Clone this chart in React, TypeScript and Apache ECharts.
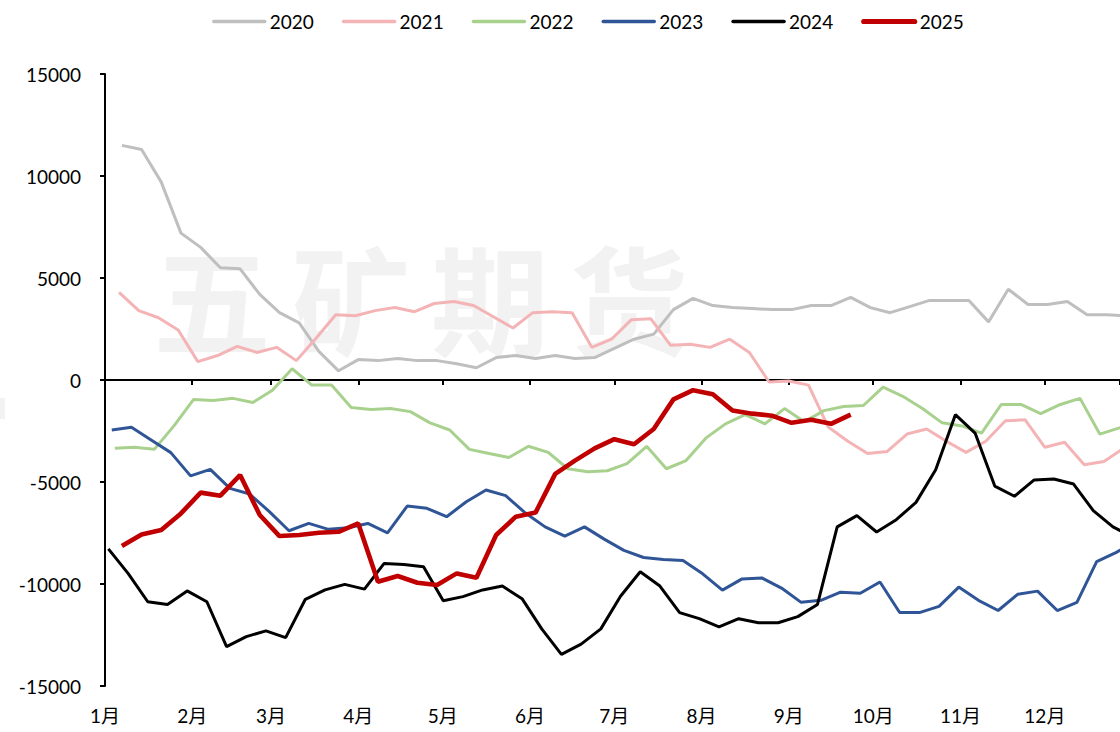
import React, { useEffect, useRef } from "react";
import * as echarts from "echarts";

// Weekly values by year (first-point day-of-year offset, then one value per week)
const years = ["2020", "2021", "2022", "2023", "2024", "2025"];
const startDays = [6, 5, 3.5, 2.4, 1.2, 6];

const v2020 = [11500, 11300, 9700, 7200, 6500, 5500, 5450, 4200, 3300, 2800, 1400, 450, 1000, 950, 1050, 950, 950, 800, 600, 1100, 1200, 1050, 1200, 1050, 1100, 1550, 2000, 2250, 3450, 4000, 3650, 3550, 3500, 3450, 3450, 3650, 3650, 4050, 3550, 3300, 3600, 3900, 3900, 3900, 2850, 4450, 3700, 3700, 3850, 3200, 3200, 3150, 3400];
const v2021 = [4300, 3400, 3050, 2450, 900, 1200, 1650, 1350, 1600, 950, 2050, 3200, 3150, 3400, 3550, 3350, 3750, 3850, 3650, 3100, 2550, 3300, 3350, 3300, 1600, 2000, 2950, 3000, 1700, 1750, 1600, 2000, 1350, -100, -50, -250, -2300, -3000, -3600, -3500, -2650, -2400, -3000, -3550, -3000, -2000, -1950, -3300, -3050, -4150, -4000, -3350];
const v2022 = [-3350, -3300, -3400, -2250, -950, -1000, -900, -1100, -500, 550, -250, -250, -1350, -1450, -1400, -1550, -2100, -2450, -3400, -3600, -3800, -3250, -3550, -4350, -4500, -4450, -4100, -3250, -4350, -3950, -2850, -2150, -1700, -2150, -1400, -2050, -1500, -1300, -1250, -350, -800, -1400, -2100, -2250, -2600, -1200, -1200, -1650, -1200, -900, -2650, -2350, -2200];
const v2023 = [-2450, -2320, -2940, -3560, -4700, -4380, -5310, -5590, -6450, -7390, -7030, -7320, -7240, -7030, -7490, -6180, -6290, -6700, -5970, -5390, -5670, -6520, -7200, -7650, -7200, -7800, -8350, -8700, -8800, -8850, -9500, -10300, -9750, -9700, -10200, -10900, -10800, -10400, -10450, -9900, -11400, -11400, -11100, -10150, -10800, -11300, -10500, -10350, -11300, -10900, -8900, -8450, -7900];
const v2024 = [-8280, -9480, -10870, -11000, -10340, -10870, -13070, -12580, -12300, -12630, -10750, -10290, -10020, -10250, -8990, -9040, -9150, -10820, -10620, -10290, -10100, -10720, -12200, -13450, -12950, -12200, -10600, -9400, -10100, -11400, -11700, -12100, -11700, -11900, -11900, -11600, -11000, -7200, -6650, -7450, -6850, -6000, -4400, -1700, -2600, -5200, -5700, -4900, -4850, -5100, -6400, -7200, -7700];
const v2025 = [-8140, -7570, -7350, -6540, -5520, -5670, -4660, -6620, -7650, -7600, -7490, -7440, -7030, -9890, -9610, -9940, -10050, -9480, -9690, -7600, -6700, -6500, -4600, -3950, -3350, -2900, -3150, -2400, -950, -500, -700, -1500, -1650, -1750, -2100, -1950, -2150, -1700];

const values = [v2020, v2021, v2022, v2023, v2024, v2025];
const colors = ["#bfbfbf", "#f4b4b6", "#a9d18e", "#2f5597", "#000000", "#c00000"];
const widths = [3, 3, 3, 3, 3, 4.6];

const yTicks = { min: -15000, max: 15000, interval: 5000 };
const watermark = ["五", "矿", "期", "货"];

const DAY = 86400000;
const FONT = "Lato, 'Noto Sans CJK SC', sans-serif";

export default function App() {
  const ref = useRef<HTMLDivElement>(null);
  useEffect(() => {
    document.body.style.margin = "0";
    const chart = echarts.init(ref.current!, null, { renderer: "svg" });
    const t0 = new Date(2025, 0, 1).getTime();
    const series = years.map((name, k) => ({
      name,
      type: "line",
      xAxisIndex: 0,
      symbol: "none",
      z: 2 + k,
      data: values[k].map((v, i) => [t0 + (startDays[k] + 7 * i) * DAY, v]),
      lineStyle: { color: colors[k], width: widths[k] },
      itemStyle: { color: colors[k] },
    }));
    const monthFmt = (val: number) => new Date(val).getMonth() + 1 + "月";
    chart.setOption({
      animation: false,
      textStyle: { fontFamily: FONT },
      legend: {
        top: 7,
        left: 207,
        itemWidth: 51,
        itemHeight: 14,
        itemGap: 28,
        textStyle: { fontSize: 19, color: "#000", fontFamily: FONT },
        itemStyle: { opacity: 0 },
        data: years.map((name, k) => ({
          name,
          lineStyle: { color: colors[k], width: widths[k] + 0.5, cap: "round" },
        })),
      },
      grid: { left: 105, right: 0, top: 74, bottom: 46 },
      xAxis: [
        {
          type: "time",
          min: t0,
          max: t0 + 360.7 * DAY,
          splitNumber: 12,
          position: "bottom",
          axisLine: { onZero: true, lineStyle: { color: "#000", width: 2 } },
          axisTick: { show: true, length: 5, lineStyle: { color: "#000", width: 2 } },
          axisLabel: { show: false },
          splitLine: { show: false },
        },
        {
          type: "time",
          min: t0,
          max: t0 + 360.7 * DAY,
          splitNumber: 12,
          position: "bottom",
          axisLine: { show: false, onZero: false },
          axisTick: { show: false },
          axisLabel: { formatter: monthFmt, fontSize: 19, color: "#000", margin: 20, fontFamily: FONT },
          splitLine: { show: false },
        },
      ],
      yAxis: {
        type: "value",
        min: yTicks.min,
        max: yTicks.max,
        interval: yTicks.interval,
        axisLine: { show: true, lineStyle: { color: "#000", width: 2 } },
        axisTick: { show: true, length: 5, lineStyle: { color: "#000", width: 2 } },
        axisLabel: { fontSize: 19, color: "#000", margin: 24, fontFamily: FONT, formatter: (v: number) => String(v) },
        splitLine: { show: false },
      },
      graphic: [
        ...watermark.map((ch, i) => ({
          type: "text",
          z: 0,
          silent: true,
          x: 212 + i * 139,
          y: 295,
          style: {
            text: ch,
            fontSize: 118,
            fontWeight: "bold",
            fontFamily: "'Noto Sans CJK SC', sans-serif",
            fill: "#f2f2f2",
            align: "center",
            verticalAlign: "middle",
          },
        })),
        { type: "rect", z: 0, silent: true, shape: { x: 0, y: 398, width: 5, height: 21 }, style: { fill: "#f2f2f2" } },
      ],
      series,
    });
    return () => chart.dispose();
  }, []);
  return <div ref={ref} style={{ width: 1120, height: 732 }} />;
}
